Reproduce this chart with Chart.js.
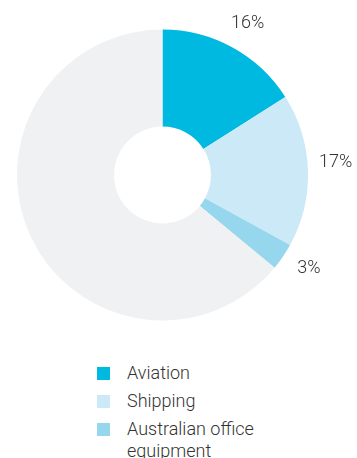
<!DOCTYPE html>
<html><head><meta charset="utf-8">
<script src="https://cdn.jsdelivr.net/npm/chart.js@4"></script>
<style>
html,body{margin:0;padding:0;background:#fff;width:357px;height:458px;overflow:hidden;}
#wrap{position:absolute;left:0;top:0;width:357px;height:340px;}
#legend{position:absolute;left:97px;top:362px;font-family:Roboto,"Liberation Sans",sans-serif;font-weight:300;font-size:18px;color:#333;}
.item{position:relative;padding-left:30px;line-height:22px;margin-bottom:6px;width:160px;}
.sw{position:absolute;left:0;top:5px;width:13px;height:13px;}
</style></head><body>
<div id="wrap"><canvas id="c"></canvas></div>
<div id="legend"></div>
<script>
const categories = ["Aviation", "Shipping", "Australian office equipment", "Other"];
const values = [16, 17, 3, 64];
const valueLabels = ["16%", "17%", "3%", ""];
const colors = ["#00b9e1", "#cbe9f6", "#96d7ee", "#f0f1f3"];
const legendCount = 3;

const lg = document.getElementById('legend');
for (let i = 0; i < legendCount; i++) {
  const d = document.createElement('div'); d.className = 'item';
  d.innerHTML = '<span class="sw" style="background:' + colors[i] + '"></span>' + categories[i];
  lg.appendChild(d);
}

const labelPlugin = {
  id: 'outLabels',
  afterDatasetsDraw(chart, args, opts) {
    const ctx = chart.ctx;
    const meta = chart.getDatasetMeta(0);
    const angleShift = opts.angleShift || [];
    ctx.save();
    ctx.font = '300 18px Roboto, "Liberation Sans", sans-serif';
    ctx.fillStyle = '#333';
    ctx.textAlign = 'center';
    ctx.textBaseline = 'middle';
    meta.data.forEach((arc, i) => {
      if (!valueLabels[i]) return;
      const p = arc.getProps(['x','y','startAngle','endAngle','outerRadius']);
      const a = (p.startAngle + p.endAngle) / 2 + (angleShift[i] || 0);
      const r = p.outerRadius + 28;
      ctx.fillText(valueLabels[i], p.x + Math.cos(a) * r, p.y + Math.sin(a) * r);
    });
    ctx.restore();
  }
};

new Chart(document.getElementById('c'), {
  type: 'doughnut',
  data: { labels: categories, datasets: [{ data: values, backgroundColor: colors, borderWidth: 0, hoverOffset: 0 }] },
  options: {
    responsive: true, maintainAspectRatio: false, animation: false,
    cutout: '33.3%',
    layout: { padding: { left: 17, right: 49, top: 29.5, bottom: 19.5 } },
    plugins: { legend: { display: false }, tooltip: { enabled: false },
      outLabels: { angleShift: [0.01, -0.04, -0.03] } }
  },
  plugins: [labelPlugin]
});
</script>
</body></html>
